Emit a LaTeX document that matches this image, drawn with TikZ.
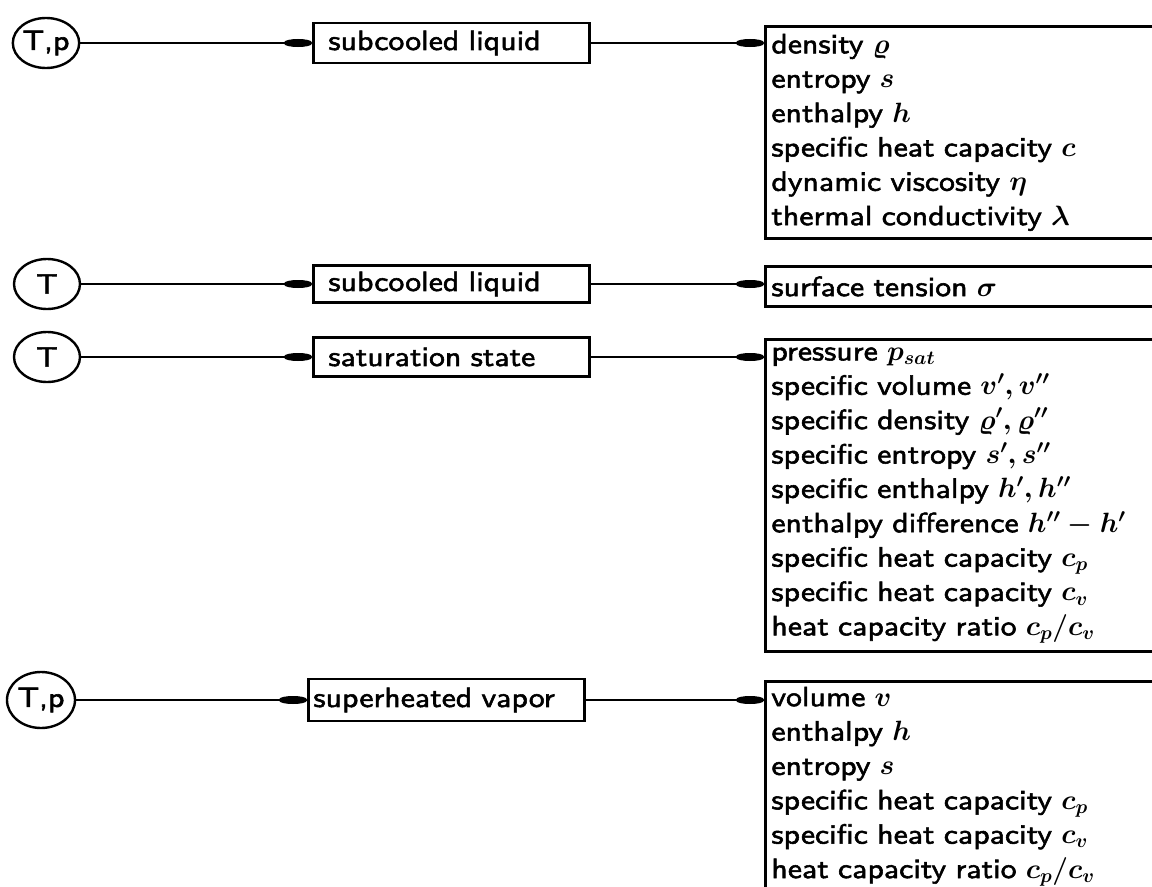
\RequirePackage{fix-cm}
\documentclass[tikz,border=0pt]{standalone}
\usepackage{fontspec}
\setsansfont{lmsans10-regular.otf}[FakeStretch=1.14,FakeBold=2]
\usetikzlibrary{shapes.geometric,arrows.meta}
\begin{document}
\begin{tikzpicture}[x=1bp,y=-1bp,
  every node/.style={font=\sffamily\boldmath\fontsize{28}{34.5}\selectfont},
  circ/.style={draw,ellipse,line width=2.4bp,inner sep=0pt,minimum width=66bp,minimum height=50bp},
  mbox/.style={draw,line width=2.8bp,anchor=west,minimum height=40bp,inner xsep=15bp,inner ysep=0pt,text width=246bp,align=left},
  rbox/.style={draw,line width=2.8bp,anchor=north west,inner xsep=6bp,inner ysep=0pt,text width=420bp,align=left},
  conn/.style={line width=2.4bp,-{Ellipse[length=28bp,width=8bp]}}]
\useasboundingbox (0,0) rectangle (1152,887);
\clip (0,0) rectangle (1152,887);
% row 1
\node[circ] (c1) at (46,43) {T,p};
\node[mbox] (m1) at (312,43) {subcooled liquid};
\node[rbox,minimum height=212bp] (r1) at (764,25) {density $\varrho$\\entropy $s$\\enthalpy $h$\\specific heat capacity $c$\\dynamic viscosity $\eta$\\thermal conductivity $\lambda$};
\draw[conn] (c1) -- (m1);
\draw[conn] (m1.east) -- (m1.east -| r1.west);
% row 2
\node[circ] (c2) at (47,284) {T};
\node[mbox,minimum height=37bp] (m2) at (312,284) {subcooled liquid};
\node[rbox,minimum height=40bp] (r2) at (764,265) {surface tension $\sigma$};
\draw[conn] (c2) -- (m2);
\draw[conn] (m2.east) -- (m2.east -| r2.west);
% row 3
\node[circ] (c3) at (47,357) {T};
\node[mbox,minimum height=39bp] (m3) at (312,357) {saturation state};
\node[rbox,minimum height=312bp,font=\sffamily\boldmath\fontsize{28}{34.5}\selectfont] (r3) at (764,338) {pressure $p_{sat}$\\specific volume $v',v''$\\specific density $\varrho',\varrho''$\\specific entropy $s',s''$\\specific enthalpy $h',h''$\\enthalpy difference $h''-h'$\\specific heat capacity $c_p$\\specific heat capacity $c_v$\\heat capacity ratio $c_p/c_v$};
\draw[conn] (c3) -- (m3);
\draw[conn] (m3.east) -- (m3.east -| r3.west);
% row 4
\node[circ,minimum width=68bp,minimum height=56bp] (c4) at (41,700) {T,p};
\node[mbox,minimum height=42bp,inner xsep=5bp,text width=266bp] (m4) at (307,700) {superheated vapor};
\node[rbox,minimum height=210bp] (r4) at (764,680) {volume $v$\\enthalpy $h$\\entropy $s$\\specific heat capacity $c_p$\\specific heat capacity $c_v$\\heat capacity ratio $c_p/c_v$};
\draw[conn] (c4) -- (m4);
\draw[conn] (m4.east) -- (m4.east -| r4.west);
\end{tikzpicture}
\end{document}
